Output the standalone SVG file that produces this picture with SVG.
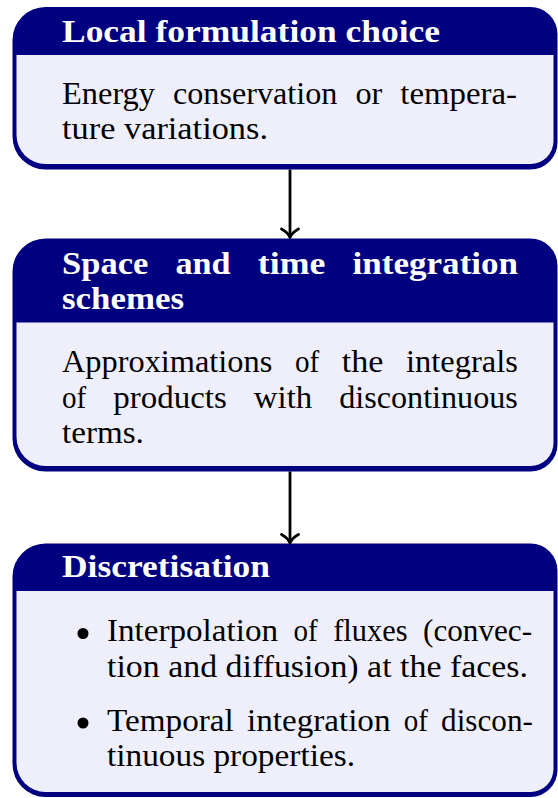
<svg xmlns="http://www.w3.org/2000/svg" width="558" height="798" viewBox="0 0 558 798">
<defs>
<style>
.frame{fill:#000080;}
.body{fill:#efeffc;}
.h{font-family:"Liberation Serif","Times New Roman",serif;font-weight:bold;font-size:31px;fill:#ffffff;}
.b{font-family:"Liberation Serif","Times New Roman",serif;font-size:31px;fill:#000000;}
.conn{stroke:#000;stroke-width:2.8;fill:none;}
.head{stroke:#000;stroke-width:2.8;fill:none;stroke-linecap:round;stroke-linejoin:round;}
</style>
</defs>
<rect x="0" y="0" width="558" height="798" fill="#ffffff"/>

<g id="node-local">
<path class="frame" d="M45.5,7 H530.5 A27,27 0 0 1 557.5,34 V142.5 A27,27 0 0 1 530.5,169.5 H45.5 A33,33 0 0 1 12.5,136.5 V40 A33,33 0 0 1 45.5,7 Z"/>
<path class="body" d="M16.5,55 H553.5 V141 A23,23 0 0 1 530.5,164 H45.5 A29,29 0 0 1 16.5,135 Z"/>
<text class="h" x="62" y="42" textLength="378" lengthAdjust="spacingAndGlyphs">Local formulation choice</text>
<text class="b" x="62" y="104" textLength="93" lengthAdjust="spacingAndGlyphs">Energy</text>
<text class="b" x="173" y="104" textLength="164.4" lengthAdjust="spacingAndGlyphs">conservation</text>
<text class="b" x="355.4" y="104" textLength="26.8" lengthAdjust="spacingAndGlyphs">or</text>
<text class="b" x="400.3" y="104" textLength="116.7" lengthAdjust="spacingAndGlyphs">tempera-</text>
<text class="b" x="62" y="139" textLength="206" lengthAdjust="spacingAndGlyphs">ture variations.</text>
</g>

<g id="node-integration">
<path class="frame" d="M45.5,238.5 H530.5 A27,27 0 0 1 557.5,265.5 V444.5 A27,27 0 0 1 530.5,471.5 H45.5 A33,33 0 0 1 12.5,438.5 V271.5 A33,33 0 0 1 45.5,238.5 Z"/>
<path class="body" d="M16.5,322.5 H553.5 V443 A23,23 0 0 1 530.5,466 H45.5 A29,29 0 0 1 16.5,437 Z"/>
<text class="h" x="62" y="273.5" textLength="86.3" lengthAdjust="spacingAndGlyphs">Space</text>
<text class="h" x="175.5" y="273.5" textLength="55.1" lengthAdjust="spacingAndGlyphs">and</text>
<text class="h" x="257.8" y="273.5" textLength="67.5" lengthAdjust="spacingAndGlyphs">time</text>
<text class="h" x="352.5" y="273.5" textLength="165.6" lengthAdjust="spacingAndGlyphs">integration</text>
<text class="h" x="62" y="308.5" textLength="122" lengthAdjust="spacingAndGlyphs">schemes</text>
<text class="b" x="62" y="372" textLength="210.3" lengthAdjust="spacingAndGlyphs">Approximations</text>
<text class="b" x="294.9" y="372" textLength="24.2" lengthAdjust="spacingAndGlyphs">of</text>
<text class="b" x="341.7" y="372" textLength="41.7" lengthAdjust="spacingAndGlyphs">the</text>
<text class="b" x="406" y="372" textLength="111.9" lengthAdjust="spacingAndGlyphs">integrals</text>
<text class="b" x="62" y="407.5" textLength="24.2" lengthAdjust="spacingAndGlyphs">of</text>
<text class="b" x="113.2" y="407.5" textLength="113.6" lengthAdjust="spacingAndGlyphs">products</text>
<text class="b" x="253.8" y="407.5" textLength="58.4" lengthAdjust="spacingAndGlyphs">with</text>
<text class="b" x="339.2" y="407.5" textLength="178.7" lengthAdjust="spacingAndGlyphs">discontinuous</text>
<text class="b" x="62" y="443" textLength="81.9" lengthAdjust="spacingAndGlyphs">terms.</text>
</g>

<g id="node-discretisation">
<path class="frame" d="M45.5,543.5 H530.5 A27,27 0 0 1 557.5,570.5 V770 A27,27 0 0 1 530.5,797 H45.5 A33,33 0 0 1 12.5,764 V576.5 A33,33 0 0 1 45.5,543.5 Z"/>
<path class="body" d="M16.5,591 H553.5 V769 A23,23 0 0 1 530.5,792 H45.5 A29,29 0 0 1 16.5,763 Z"/>
<text class="h" x="62" y="577" textLength="208" lengthAdjust="spacingAndGlyphs">Discretisation</text>
<circle cx="83" cy="633.5" r="5.5" fill="#000"/>
<text class="b" x="107" y="641" textLength="171" lengthAdjust="spacingAndGlyphs">Interpolation</text>
<text class="b" x="293.5" y="641" textLength="24.2" lengthAdjust="spacingAndGlyphs">of</text>
<text class="b" x="333.2" y="641" textLength="74.3" lengthAdjust="spacingAndGlyphs">fluxes</text>
<text class="b" x="423" y="641" textLength="109.1" lengthAdjust="spacingAndGlyphs">(convec-</text>
<text class="b" x="107" y="676.5" textLength="421" lengthAdjust="spacingAndGlyphs">tion and diffusion) at the faces.</text>
<circle cx="83" cy="723" r="5.5" fill="#000"/>
<text class="b" x="107" y="730.5" textLength="126.8" lengthAdjust="spacingAndGlyphs">Temporal</text>
<text class="b" x="247" y="730.5" textLength="143.5" lengthAdjust="spacingAndGlyphs">integration</text>
<text class="b" x="403.7" y="730.5" textLength="24.2" lengthAdjust="spacingAndGlyphs">of</text>
<text class="b" x="441.1" y="730.5" textLength="91.8" lengthAdjust="spacingAndGlyphs">discon-</text>
<text class="b" x="107" y="765.5" textLength="248" lengthAdjust="spacingAndGlyphs">tinuous properties.</text>
</g>

<g id="connectors">
<line class="conn" x1="290" y1="169.5" x2="290" y2="236.5"/>
<path class="head" d="M281.5,229 Q288,232.5 290,237.5 Q292,232.5 298.5,229"/>
<line class="conn" x1="290" y1="471.5" x2="290" y2="542"/>
<path class="head" d="M281.5,534.5 Q288,538 290,543 Q292,538 298.5,534.5"/>
</g>
</svg>
